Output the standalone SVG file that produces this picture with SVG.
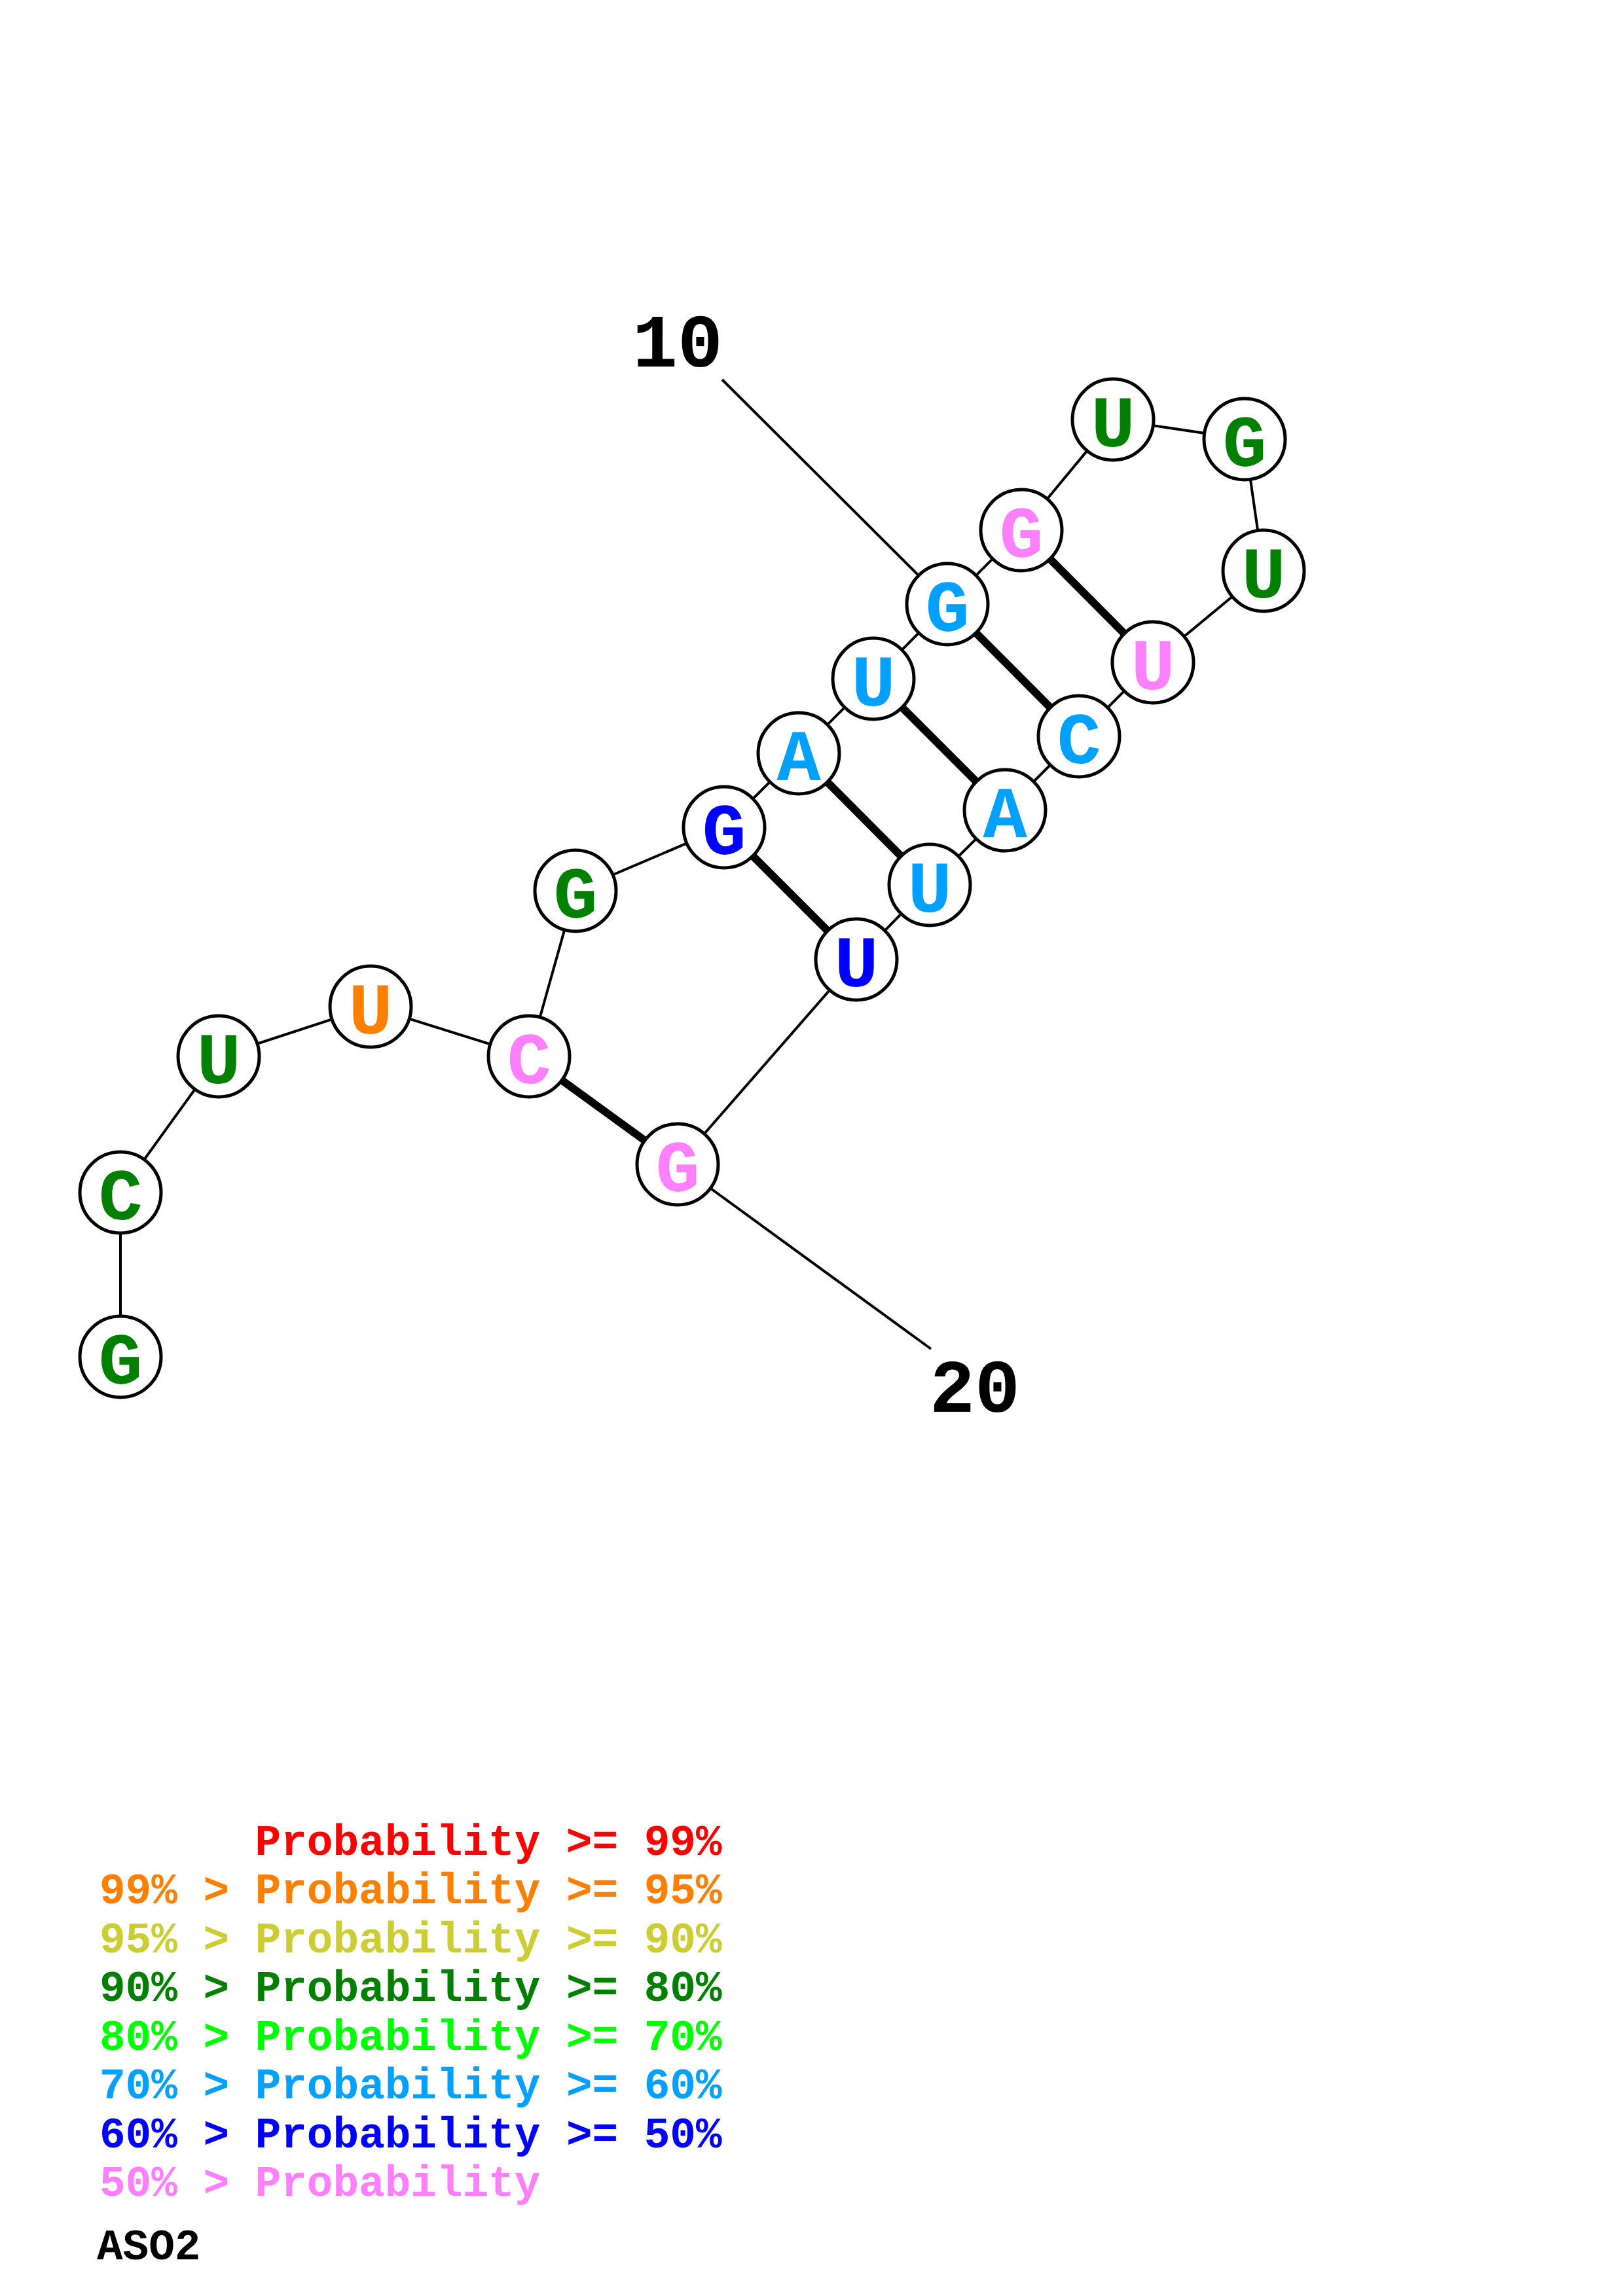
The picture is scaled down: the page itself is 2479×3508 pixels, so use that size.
<svg xmlns="http://www.w3.org/2000/svg" width="2479" height="3508" viewBox="0 0 2479 3508">
<style>
.bb{stroke:#000;stroke-width:4;fill:none}
.pr{stroke:#000;stroke-width:12;fill:none}
.nc{fill:#fff;stroke:#000;stroke-width:5}
.nt{font-family:"Liberation Mono","Courier New",monospace;font-weight:bold;font-size:112px;text-anchor:middle}
.lb{font-family:"Liberation Mono","Courier New",monospace;font-weight:bold;font-size:115px;fill:#000}
.lg{font-family:"Liberation Mono","Courier New",monospace;font-weight:bold;font-size:66px}
.c1{fill:#FF0000}.c2{fill:#FF8000}.c3{fill:#CCCC33}.c4{fill:#008000}.c5{fill:#00FF00}.c6{fill:#00A0FF}.c7{fill:#0000FF}.c8{fill:#FF80FF}
</style>
<rect width="2479" height="3508" fill="#fff"/>
<g id="connectors">
<polyline class="bb" points="184,2073 184,1822 334,1614 566,1538 808,1614 879,1361 1106,1264 1220,1151 1334,1037 1447,923 1560,810 1700,641 1901,671 1930,872 1761,1012 1648,1125 1535,1238 1420,1352 1308,1466 1035,1779"/>
<line class="bb" x1="1103" y1="580" x2="1447" y2="923"/>
<line class="bb" x1="1035" y1="1779" x2="1422" y2="2061"/>
<line class="pr" x1="808" y1="1614" x2="1035" y2="1779"/>
<line class="pr" x1="1106" y1="1264" x2="1308" y2="1466"/>
<line class="pr" x1="1220" y1="1151" x2="1420" y2="1352"/>
<line class="pr" x1="1334" y1="1037" x2="1535" y2="1238"/>
<line class="pr" x1="1447" y1="923" x2="1648" y2="1125"/>
<line class="pr" x1="1560" y1="810" x2="1761" y2="1012"/>
</g>
<g id="n1"><circle class="nc" cx="184" cy="2073" r="62"/><text class="nt c4" x="184" y="2114">G</text></g>
<g id="n2"><circle class="nc" cx="184" cy="1822" r="62"/><text class="nt c4" x="184" y="1863">C</text></g>
<g id="n3"><circle class="nc" cx="334" cy="1614" r="62"/><text class="nt c4" x="334" y="1655">U</text></g>
<g id="n4"><circle class="nc" cx="566" cy="1538" r="62"/><text class="nt c2" x="566" y="1579">U</text></g>
<g id="n5"><circle class="nc" cx="808" cy="1614" r="62"/><text class="nt c8" x="808" y="1655">C</text></g>
<g id="n6"><circle class="nc" cx="879" cy="1361" r="62"/><text class="nt c4" x="879" y="1402">G</text></g>
<g id="n7"><circle class="nc" cx="1106" cy="1264" r="62"/><text class="nt c7" x="1106" y="1305">G</text></g>
<g id="n8"><circle class="nc" cx="1220" cy="1151" r="62"/><text class="nt c6" x="1220" y="1192">A</text></g>
<g id="n9"><circle class="nc" cx="1334" cy="1037" r="62"/><text class="nt c6" x="1334" y="1078">U</text></g>
<g id="n10"><circle class="nc" cx="1447" cy="923" r="62"/><text class="nt c6" x="1447" y="964">G</text></g>
<g id="n11"><circle class="nc" cx="1560" cy="810" r="62"/><text class="nt c8" x="1560" y="851">G</text></g>
<g id="n12"><circle class="nc" cx="1700" cy="641" r="62"/><text class="nt c4" x="1700" y="682">U</text></g>
<g id="n13"><circle class="nc" cx="1901" cy="671" r="62"/><text class="nt c4" x="1901" y="712">G</text></g>
<g id="n14"><circle class="nc" cx="1930" cy="872" r="62"/><text class="nt c4" x="1930" y="913">U</text></g>
<g id="n15"><circle class="nc" cx="1761" cy="1012" r="62"/><text class="nt c8" x="1761" y="1053">U</text></g>
<g id="n16"><circle class="nc" cx="1648" cy="1125" r="62"/><text class="nt c6" x="1648" y="1166">C</text></g>
<g id="n17"><circle class="nc" cx="1535" cy="1238" r="62"/><text class="nt c6" x="1535" y="1279">A</text></g>
<g id="n18"><circle class="nc" cx="1420" cy="1352" r="62"/><text class="nt c6" x="1420" y="1393">U</text></g>
<g id="n19"><circle class="nc" cx="1308" cy="1466" r="62"/><text class="nt c7" x="1308" y="1507">U</text></g>
<g id="n20"><circle class="nc" cx="1035" cy="1779" r="62"/><text class="nt c8" x="1035" y="1820">G</text></g>
<g id="labels">
<text class="lb" x="966" y="560">10</text>
<text class="lb" x="1420" y="2157">20</text>
</g>
<g id="legend" xml:space="preserve">
<text class="lg c1" x="389.6" y="2834">Probability &gt;= 99%</text>
<text class="lg c2" x="152" y="2908">99% &gt; Probability &gt;= 95%</text>
<text class="lg c3" x="152" y="2983">95% &gt; Probability &gt;= 90%</text>
<text class="lg c4" x="152" y="3057">90% &gt; Probability &gt;= 80%</text>
<text class="lg c5" x="152" y="3132">80% &gt; Probability &gt;= 70%</text>
<text class="lg c6" x="152" y="3206">70% &gt; Probability &gt;= 60%</text>
<text class="lg c7" x="152" y="3281">60% &gt; Probability &gt;= 50%</text>
<text class="lg c8" x="152" y="3355">50% &gt; Probability</text>
<text class="lg" x="148" y="3452" fill="#000">ASO2</text>
</g>
</svg>
